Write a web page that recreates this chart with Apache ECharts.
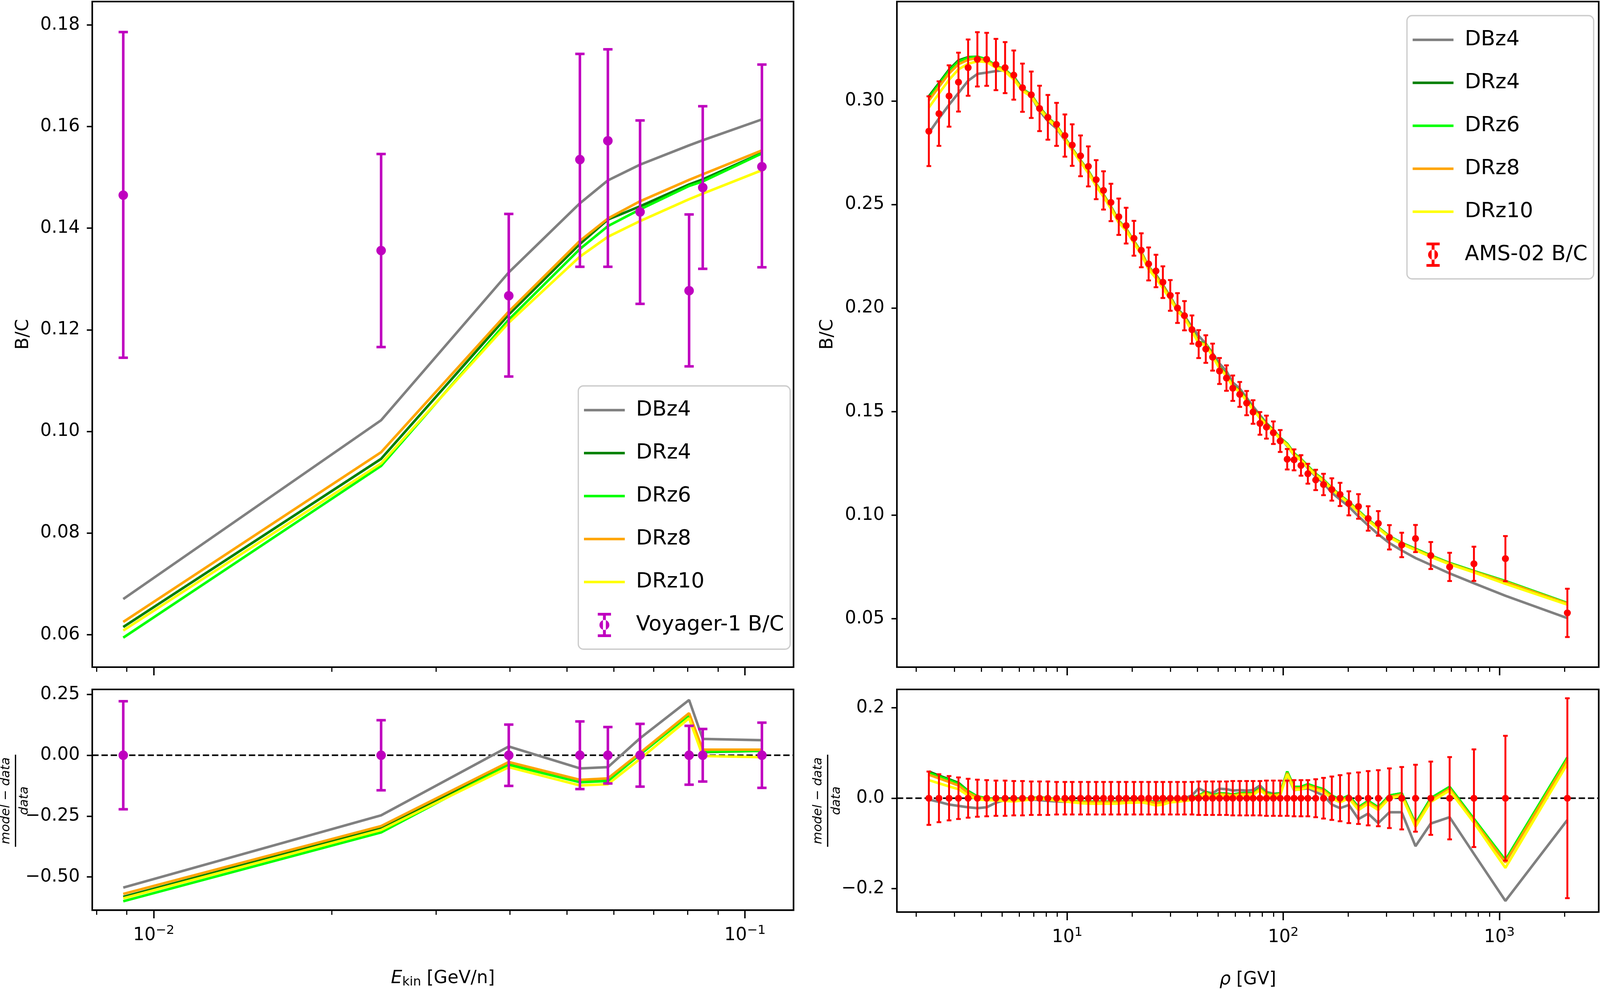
<!DOCTYPE html>
<html><head><meta charset="utf-8">
<script src="https://cdn.jsdelivr.net/npm/echarts@6/dist/echarts.min.js"></script>
<style>html,body{margin:0;padding:0;background:#fff;overflow:hidden}#c{width:100vw;height:100vh}</style>
</head><body><div id="c"></div>
<script>
// ---------- Left panel: Voyager-1 ----------
const voyE = [0.00888, 0.02424, 0.03985, 0.05257, 0.05862, 0.06645, 0.08043, 0.08482, 0.1068];
const voyBC = [0.1465, 0.1356, 0.1267, 0.1535, 0.1572, 0.1432, 0.1277, 0.1480, 0.1521];
const voyHi = [0.1786, 0.1546, 0.1428, 0.1743, 0.1752, 0.1612, 0.1427, 0.1640, 0.1722];
const voyLo = [0.1145, 0.1166, 0.1108, 0.1324, 0.1324, 0.1251, 0.1128, 0.1320, 0.1323];
const voyResErr = [0.222, 0.144, 0.126, 0.139, 0.116, 0.129, 0.121, 0.108, 0.134];
const L_DBz4 = [0.0670, 0.1022, 0.1313, 0.1449, 0.1494, 0.1525, 0.1563, 0.1573, 0.1614];
const L_DRz4 = [0.0615, 0.0946, 0.1230, 0.1369, 0.1417, 0.1443, 0.1486, 0.1496, 0.1548];
const L_DRz6 = [0.0594, 0.0932, 0.1220, 0.1359, 0.1404, 0.1437, 0.1483, 0.1492, 0.1547];
const L_DRz8 = [0.0625, 0.0959, 0.1236, 0.1375, 0.1419, 0.1453, 0.1495, 0.1506, 0.1553];
const L_DRz10 = [0.0608, 0.0937, 0.1214, 0.1344, 0.1383, 0.1414, 0.1457, 0.1468, 0.1514];
const LR_DBz4 = [-0.544, -0.247, 0.036, -0.054, -0.049, 0.070, 0.227, 0.067, 0.062];
const LR_DRz4 = [-0.582, -0.299, -0.034, -0.106, -0.098, 0.008, 0.170, 0.013, 0.018];
const LR_DRz6 = [-0.600, -0.317, -0.039, -0.111, -0.106, 0.003, 0.165, 0.015, 0.018];
const LR_DRz8 = [-0.570, -0.291, -0.028, -0.101, -0.095, 0.010, 0.173, 0.023, 0.023];
const LR_DRz10 = [-0.588, -0.307, -0.049, -0.124, -0.119, -0.015, 0.152, -0.003, -0.008];

// ---------- Right panel: AMS-02 ----------
const amsR = [2.29,2.55,2.84,3.14,3.48,3.84,4.24,4.68,5.16,5.66,6.21,6.82,7.45,8.14,8.93,9.76,10.55,11.53,12.53,13.62,14.73,15.94,17.33,18.74,20.37,22.03,23.82,25.76,27.73,30.0,32.4,34.9,37.8,40.6,43.8,47.1,50.7,54.6,58.4,62.9,67.7,72.5,78.0,83.6,90.0,96.8,104.3,112.2,120.8,130.0,141.3,153.6,167.8,183.2,201.2,222.9,247.2,275.4,309.9,353.4,409.3,481.7,589,763,1067,2065];
const amsBC = [0.2854,0.2939,0.3024,0.3091,0.3161,0.3201,0.3201,0.3176,0.3161,0.3125,0.3064,0.3030,0.2964,0.2921,0.2887,0.2833,0.2787,0.2735,0.2684,0.2620,0.2568,0.2510,0.2441,0.2398,0.2337,0.2279,0.2213,0.2179,0.2125,0.2061,0.2000,0.1963,0.1896,0.1826,0.1802,0.1763,0.1696,0.1662,0.1613,0.1583,0.1541,0.1498,0.1443,0.1425,0.1398,0.1358,0.1270,0.1267,0.1240,0.1200,0.1170,0.1148,0.1124,0.1100,0.1057,0.1042,0.0984,0.0960,0.0893,0.0856,0.0887,0.0805,0.0750,0.0765,0.0790,0.0528];
const amsRelErr = [0.059,0.053,0.049,0.046,0.043,0.041,0.040,0.039,0.039,0.038,0.038,0.037,0.037,0.037,0.036,0.036,0.036,0.036,0.036,0.036,0.036,0.036,0.036,0.036,0.036,0.036,0.036,0.036,0.036,0.036,0.036,0.036,0.036,0.037,0.037,0.037,0.037,0.037,0.038,0.038,0.038,0.038,0.038,0.039,0.039,0.039,0.039,0.040,0.040,0.040,0.042,0.045,0.048,0.051,0.055,0.057,0.060,0.062,0.066,0.069,0.074,0.081,0.091,0.108,0.138,0.221];
// (model - data)/data
const R_DBz4 = [-0.003,-0.008,-0.014,-0.017,-0.020,-0.022,-0.020,-0.010,-0.004,-0.002,-0.002,-0.003,-0.004,-0.006,-0.007,-0.008,-0.008,-0.008,-0.008,-0.008,-0.008,-0.008,-0.008,-0.007,-0.006,-0.005,-0.006,-0.008,-0.006,-0.003,-0.002,0.000,0.006,0.022,0.014,0.011,0.021,0.020,0.017,0.018,0.017,0.018,0.028,0.014,0.010,0.011,0.050,0.018,0.020,0.022,0.014,0.006,-0.014,-0.022,-0.015,-0.046,-0.034,-0.055,-0.031,-0.031,-0.106,-0.056,-0.042,-0.123,-0.227,-0.048];
const R_DRz4 = [0.059,0.050,0.042,0.034,0.016,0.004,0.000,-0.002,-0.003,-0.004,-0.002,0.000,0.002,0.000,-0.002,-0.004,-0.006,-0.008,-0.008,-0.008,-0.008,-0.008,-0.008,-0.006,-0.006,-0.004,-0.006,-0.010,-0.008,-0.004,-0.004,-0.002,0.000,0.006,0.014,0.006,0.011,0.010,0.008,0.011,0.011,0.011,0.022,0.011,0.008,0.011,0.059,0.025,0.025,0.031,0.025,0.020,0.006,-0.003,0.006,-0.020,-0.006,-0.020,0.006,0.011,-0.056,0.000,0.025,-0.046,-0.137,0.090];
const R_DRz6 = [0.056,0.048,0.040,0.032,0.015,0.004,0.000,-0.002,-0.003,-0.004,-0.002,0.000,0.002,0.000,-0.002,-0.004,-0.006,-0.008,-0.008,-0.008,-0.008,-0.008,-0.008,-0.006,-0.006,-0.004,-0.006,-0.010,-0.008,-0.004,-0.004,-0.002,0.000,0.006,0.014,0.006,0.011,0.010,0.008,0.011,0.011,0.011,0.022,0.011,0.008,0.011,0.059,0.025,0.025,0.031,0.025,0.020,0.006,-0.003,0.006,-0.020,-0.006,-0.020,0.006,0.011,-0.056,0.000,0.025,-0.046,-0.137,0.090];
const R_DRz8 = [0.052,0.044,0.036,0.028,0.012,0.002,-0.002,-0.003,-0.004,-0.005,-0.003,-0.001,0.001,-0.001,-0.003,-0.005,-0.007,-0.009,-0.009,-0.009,-0.009,-0.009,-0.009,-0.007,-0.007,-0.005,-0.007,-0.011,-0.009,-0.005,-0.005,-0.003,-0.001,0.004,0.012,0.004,0.009,0.008,0.006,0.009,0.009,0.009,0.020,0.009,0.006,0.009,0.056,0.022,0.022,0.028,0.022,0.017,0.003,-0.006,0.003,-0.023,-0.009,-0.023,0.003,0.008,-0.060,-0.004,0.021,-0.050,-0.142,0.085];
const R_DRz10 = [0.040,0.033,0.026,0.020,0.006,-0.003,-0.004,-0.005,-0.006,-0.007,-0.005,-0.003,-0.001,-0.003,-0.005,-0.007,-0.009,-0.011,-0.012,-0.012,-0.012,-0.012,-0.012,-0.010,-0.010,-0.009,-0.012,-0.016,-0.014,-0.009,-0.008,-0.006,-0.004,0.002,0.010,0.002,0.007,0.006,0.004,0.007,0.007,0.007,0.018,0.007,0.004,0.007,0.053,0.019,0.019,0.025,0.019,0.014,0.000,-0.009,0.000,-0.026,-0.012,-0.026,0.000,0.005,-0.063,-0.008,0.017,-0.054,-0.154,0.076];

// ticks
const leftMajor = [0.01, 0.1];
const leftMinor = [0.008, 0.009, 0.02, 0.03, 0.04, 0.05, 0.06, 0.07, 0.08, 0.09];
const rightMajor = [10, 100, 1000];
const rightMinor = [2,3,4,5,6,7,8,9,20,30,40,50,60,70,80,90,200,300,400,500,600,700,800,900,2000];
const ltYTicks = [0.06, 0.08, 0.10, 0.12, 0.14, 0.16, 0.18];
const lbYTicks = [-0.50, -0.25, 0.00, 0.25];
const rtYTicks = [0.05, 0.10, 0.15, 0.20, 0.25, 0.30];
const rbYTicks = [-0.2, 0.0, 0.2];

// layout is specified in pixels of the 6192x2532 picture, then fitted to the viewport
const SX = window.innerWidth / 6192, SY = window.innerHeight / 2532;
const X = v => v * SX, Y = v => v * SY, F = v => v * Math.sqrt(SX * SY);
const FONT = 'DejaVu Sans';
const names = ['DBz4','DRz4','DRz6','DRz8','DRz10'];
const colors = ['#808080','#008000','#00ff00','#ffa500','#ffff00'];
const fmtMinus = (s) => s.replace('-', '\u2212');

const grids = [
  {left:357, right:3121, top:4, height:1704},
  {left:357, right:3121, top:1765, height:570},
  {left:3471, right:5, top:4, height:1704},
  {left:3471, right:5, top:1765, height:570}
].map(g => ({left:X(g.left), right:X(g.right), top:Y(g.top), height:Y(g.height), show:true, borderColor:'#000', borderWidth:F(5), backgroundColor:'#fff'}));

const xRange = [[0.00787, 0.1208], [0.00787, 0.1208], [1.629, 2884], [1.629, 2884]];
const xAxes = [];
[0,1,2,3].forEach(gi => {
  const major = gi < 2 ? leftMajor : rightMajor;
  const minor = gi < 2 ? leftMinor : rightMinor;
  const showLab = (gi === 1 || gi === 3);
  xAxes.push({type:'log', logBase:10, gridIndex:gi, position:'bottom', min:xRange[gi][0], max:xRange[gi][1],
    axisLine:{show:false, onZero:false}, splitLine:{show:false},
    axisTick:{show:true, length:Y(21), lineStyle:{width:F(4.5), color:'#000'}, customValues:major},
    axisLabel:{show:showLab, customValues:major, margin:Y(36), fontFamily:FONT, fontSize:F(56), color:'#000',
      formatter:v => { const e = Math.round(Math.log10(v)); return '10{sup|' + (e<0?'\u2212':'') + Math.abs(e) + '}'; },
      rich:{sup:{fontFamily:FONT, fontSize:F(40), padding:[0,0,F(30),0]}}},
    name: showLab ? (gi===1 ? '{it|E}{sub|kin} [GeV/n]' : '{it|\u03c1} [GV]') : '',
    nameLocation:'middle', nameGap:Y(150),
    nameTextStyle:{fontFamily:FONT, fontSize:F(56), color:'#000',
      rich:{it:{fontFamily:FONT, fontStyle:'italic', fontSize:F(56)}, sub:{fontFamily:FONT, fontSize:F(40), padding:[F(22),0,0,0]}}}
  });
  xAxes.push({type:'log', logBase:10, gridIndex:gi, position:'bottom', min:xRange[gi][0], max:xRange[gi][1],
    axisLine:{show:false, onZero:false}, splitLine:{show:false}, axisLabel:{show:false},
    axisTick:{show:true, length:Y(12), lineStyle:{width:F(3.5), color:'#000'}, customValues:minor}});
});
const yCfg = [
  {min:0.0536, max:0.1846, ticks:ltYTicks, dp:2, name:'B/C'},
  {min:-0.6366, max:0.2706, ticks:lbYTicks, dp:2, name:''},
  {min:0.0266, max:0.348, ticks:rtYTicks, dp:2, name:'B/C'},
  {min:-0.2517, max:0.2406, ticks:rbYTicks, dp:1, name:''}
];
const yAxes = yCfg.map((c, gi) => ({type:'value', gridIndex:gi, min:c.min, max:c.max,
  axisLine:{show:false, onZero:false}, splitLine:{show:false},
  axisTick:{show:true, length:X(21), lineStyle:{width:F(4.5), color:'#000'}, customValues:c.ticks},
  axisLabel:{customValues:c.ticks, margin:X(48), fontFamily:FONT, fontSize:F(56), color:'#000',
    formatter:v => fmtMinus(Number(v).toFixed(c.dp))},
  name:c.name, nameLocation:'middle', nameGap:X(232), nameTextStyle:{fontFamily:FONT, fontSize:F(56), color:'#000'}
}));

function errRender(capHalf, lw, r, color){
  return function(params, api){
    const x = api.value(0), y = api.value(1), lo = api.value(2), hi = api.value(3);
    const p = api.coord([x,y]), pl = api.coord([x,lo]), ph = api.coord([x,hi]);
    const st = {stroke:color, lineWidth:F(lw)};
    const c = X(capHalf);
    return {type:'group', children:[
      {type:'line', shape:{x1:pl[0], y1:pl[1], x2:ph[0], y2:ph[1]}, style:st},
      {type:'line', shape:{x1:ph[0]-c, y1:ph[1], x2:ph[0]+c, y2:ph[1]}, style:st},
      {type:'line', shape:{x1:pl[0]-c, y1:pl[1], x2:pl[0]+c, y2:pl[1]}, style:st},
      {type:'circle', shape:{cx:p[0], cy:p[1], r:F(r)}, style:{fill:color}}
    ]};
  };
}
const series = [];
function lineS(name, color, xi, yi, data){
  series.push({type:'line', name, xAxisIndex:xi, yAxisIndex:yi, data, showSymbol:false, symbol:'none',
    lineStyle:{color, width:F(8)}, itemStyle:{color}, z:2, silent:true, animation:false});
}
const L_models = [L_DBz4, L_DRz4, L_DRz6, L_DRz8, L_DRz10];
const LR_models = [LR_DBz4, LR_DRz4, LR_DRz6, LR_DRz8, LR_DRz10];
const R_models = [R_DBz4, R_DRz4, R_DRz6, R_DRz8, R_DRz10];
names.forEach((n, k) => {
  lineS(n, colors[k], 0, 0, voyE.map((e,i) => [e, L_models[k][i]]));
  lineS(n, colors[k], 2, 1, voyE.map((e,i) => [e, LR_models[k][i]]));
  lineS(n, colors[k], 4, 2, amsR.map((r,i) => [r, amsBC[i]*(1+R_models[k][i])]));
  lineS(n, colors[k], 6, 3, amsR.map((r,i) => [r, R_models[k][i]]));
});
[[2,1,xRange[1]],[6,3,xRange[3]]].forEach(([xi,yi,rg]) => {
  series.push({type:'line', name:'zero', xAxisIndex:xi, yAxisIndex:yi, data:[[rg[0],0],[rg[1],0]], symbol:'none',
    lineStyle:{color:'#000', width:F(5), type:[F(20),F(9)]}, z:1, silent:true, animation:false});
});
const MAG = '#bf00bf', RED = '#ff0000';
series.push({type:'custom', name:'Voyager-1 B/C', xAxisIndex:0, yAxisIndex:0, encode:{x:0,y:1}, z:5,
  data: voyE.map((e,i) => [e, voyBC[i], voyLo[i], voyHi[i]]), renderItem: errRender(18, 8, 15, MAG), itemStyle:{color:MAG}});
series.push({type:'custom', name:'Voyager-1 B/C', xAxisIndex:2, yAxisIndex:1, encode:{x:0,y:1}, z:5,
  data: voyE.map((e,i) => [e, 0, -voyResErr[i], voyResErr[i]]), renderItem: errRender(18, 8, 15, MAG), itemStyle:{color:MAG}});
series.push({type:'custom', name:'AMS-02 B/C', xAxisIndex:4, yAxisIndex:2, encode:{x:0,y:1}, z:5,
  data: amsR.map((r,i) => [r, amsBC[i], amsBC[i]*(1-amsRelErr[i]), amsBC[i]*(1+amsRelErr[i])]), renderItem: errRender(9, 6, 11, RED), itemStyle:{color:RED}});
series.push({type:'custom', name:'AMS-02 B/C', xAxisIndex:6, yAxisIndex:3, encode:{x:0,y:1}, z:5,
  data: amsR.map((r,i) => [r, 0, -amsRelErr[i], amsRelErr[i]]), renderItem: errRender(9, 6, 11, RED), itemStyle:{color:RED}});

const lineIcon = 'path://M0,0H100V6H0Z';
const ebIcon = 'path://M2,0H14V2.5H9.3V19.5H14V22H2V19.5H6.7V2.5H2Z M8,6.5A4.5,4.5 0 1,0 8,15.5A4.5,4.5 0 1,0 8,6.5Z';
function legendFor(left, top, dataName, dcol){
  return {orient:'vertical', left:X(left), top:Y(top), itemWidth:X(158), itemHeight:Y(62), itemGap:Y(30),
    padding:[Y(22),X(24),Y(22),X(22)], backgroundColor:'rgba(255,255,255,0.85)', borderColor:'#cccccc', borderWidth:F(4), borderRadius:F(16),
    textStyle:{fontFamily:FONT, fontSize:F(66), color:'#000', lineHeight:Y(80), padding:[0,0,0,X(36)]},
    selectedMode:false,
    data: names.map((n,k) => ({name:n, icon:lineIcon, itemStyle:{color:colors[k]}})).concat([{name:dataName, icon:ebIcon, itemStyle:{color:dcol}}])
  };
}
const frac = (cx, cy) => ({type:'group', x:X(cx), y:Y(cy), rotation:Math.PI/2, silent:true, children:[
  {type:'text', x:0, y:-F(10), style:{text:'model \u2212 data', font:'italic ' + F(40) + 'px "DejaVu Sans"', fill:'#000', align:'center', verticalAlign:'bottom'}},
  {type:'rect', shape:{x:-F(145), y:-F(2), width:F(290), height:F(4)}, style:{fill:'#000'}},
  {type:'text', x:0, y:F(8), style:{text:'data', font:'italic ' + F(40) + 'px "DejaVu Sans"', fill:'#000', align:'center', verticalAlign:'top'}}
]});

const chart = echarts.init(document.getElementById('c'), null, {renderer:'canvas'});
chart.setOption({
  animation:false, backgroundColor:'#fff',
  grid:grids, xAxis:xAxes, yAxis:yAxes, series,
  legend:[legendFor(2238, 988, 'Voyager-1 B/C', MAG), legendFor(5445, 40, 'AMS-02 B/C', RED)],
  graphic:[frac(60, 2050), frac(3203, 2050)]
});
</script></body></html>
